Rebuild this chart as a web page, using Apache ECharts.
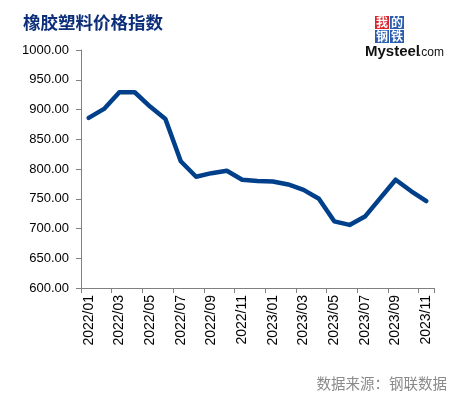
<!DOCTYPE html>
<html><head><meta charset="utf-8">
<script src="https://cdn.jsdelivr.net/npm/echarts@6/dist/echarts.min.js"></script>
<style>html,body{margin:0;padding:0;background:#fff}#c{width:458px;height:397px}</style>
</head><body><div id="c"></div>
<script>
const categories = ['2022/01','2022/02','2022/03','2022/04','2022/05','2022/06','2022/07','2022/08','2022/09','2022/10','2022/11','2022/12',
  '2023/01','2023/02','2023/03','2023/04','2023/05','2023/06','2023/07','2023/08','2023/09','2023/10','2023/11'];
const indexValues = [886,901,929,929,905,884,813,787,793,797,782,780,779,774,765,750,712,706,720,751,782,763,746];
const yMin = 600, yMax = 1000, yStep = 50;

const chart = echarts.init(document.getElementById('c'));
chart.setOption({
  animation: false,
  backgroundColor: '#fff',
  graphic: [
    {type: 'text', style: {x: 23, y: 22, text: '橡胶塑料价格指数', fill: '#0d2f7a', fontSize: 17.5, fontWeight: 'bold', fontFamily: 'Noto Sans CJK SC', verticalAlign: 'middle'}},
    {type: 'rect', shape: {x: 375, y: 16, width: 14, height: 13}, style: {fill: '#d9262c'}},
    {type: 'rect', shape: {x: 390, y: 16, width: 14, height: 13}, style: {fill: '#2a5db0'}},
    {type: 'rect', shape: {x: 375, y: 30, width: 14, height: 13}, style: {fill: '#2a5db0'}},
    {type: 'rect', shape: {x: 390, y: 30, width: 14, height: 13}, style: {fill: '#2a5db0'}},
    {type: 'text', style: {x: 382, y: 22.5, text: '我', fill: '#fff', fontSize: 12, fontWeight: 'bold', fontFamily: 'Noto Sans CJK SC', align: 'center', verticalAlign: 'middle'}},
    {type: 'text', style: {x: 397, y: 22.5, text: '的', fill: '#fff', fontSize: 12, fontWeight: 'bold', fontFamily: 'Noto Sans CJK SC', align: 'center', verticalAlign: 'middle'}},
    {type: 'text', style: {x: 382, y: 36.5, text: '钢', fill: '#fff', fontSize: 12, fontWeight: 'bold', fontFamily: 'Noto Sans CJK SC', align: 'center', verticalAlign: 'middle'}},
    {type: 'text', style: {x: 397, y: 36.5, text: '铁', fill: '#fff', fontSize: 12, fontWeight: 'bold', fontFamily: 'Noto Sans CJK SC', align: 'center', verticalAlign: 'middle'}},
    {type: 'text', style: {x: 365, y: 52, text: 'Mysteel', fill: '#111', fontSize: 15, fontWeight: 'bold', fontFamily: 'Liberation Sans', verticalAlign: 'middle'}},
    {type: 'text', style: {x: 418, y: 53, text: '.com', fill: '#111', fontSize: 12, fontFamily: 'Liberation Sans', verticalAlign: 'middle'}},
    {type: 'text', style: {x: 447, y: 383, text: '数据来源：钢联数据', fill: '#8a8a8a', fontSize: 14.5, fontFamily: 'Noto Sans CJK SC', align: 'right', verticalAlign: 'middle'}}
  ],
  grid: {left: 81, right: 24, top: 50, bottom: 109, containLabel: false},
  xAxis: {
    type: 'category', data: categories, boundaryGap: true,
    axisLine: {lineStyle: {color: '#808080', width: 1}},
    axisTick: {show: true, interval: 1, length: 5, lineStyle: {color: '#808080'}},
    axisLabel: {interval: 1, rotate: 90, color: '#000', fontSize: 14, fontFamily: 'Liberation Sans', margin: 7}
  },
  yAxis: {
    type: 'value', min: yMin, max: yMax, interval: yStep,
    splitLine: {show: false},
    axisLine: {show: true, lineStyle: {color: '#808080', width: 1}},
    axisTick: {show: true, length: 5, lineStyle: {color: '#808080'}},
    axisLabel: {color: '#000', fontSize: 13, fontFamily: 'Liberation Sans', margin: 12,
      formatter: v => v.toFixed(2)}
  },
  series: [{
    type: 'line', data: indexValues, showSymbol: false, symbol: 'none',
    lineStyle: {color: '#003f8a', width: 4.5, join: 'round', cap: 'round'}
  }]
});
</script></body></html>
